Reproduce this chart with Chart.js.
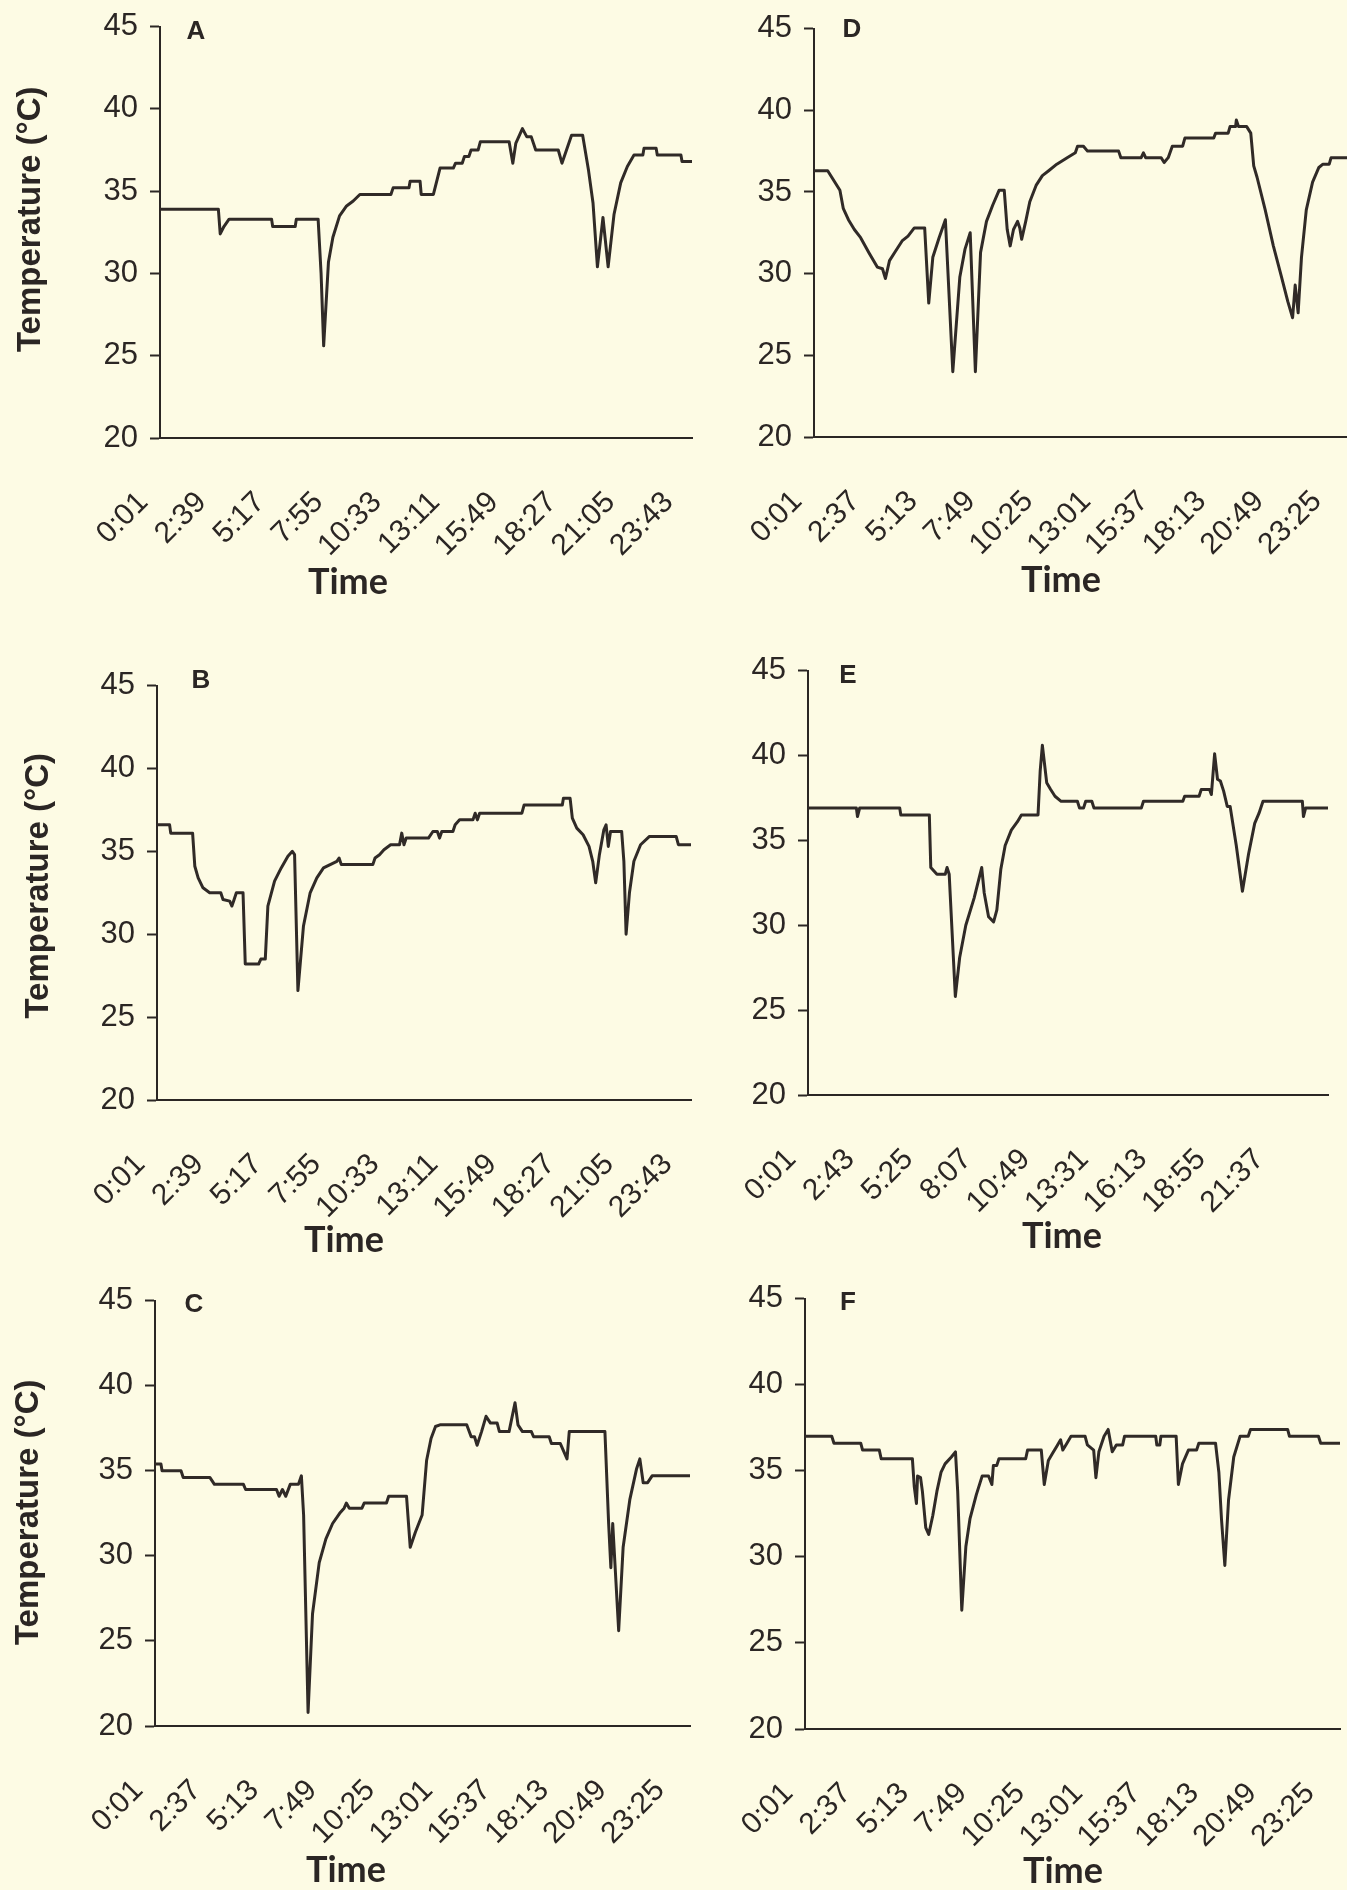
<!DOCTYPE html>
<html>
<head>
<meta charset="utf-8">
<script src="https://cdn.jsdelivr.net/npm/chart.js@4.4.1/dist/chart.umd.min.js"></script>
<style>
html, body { margin: 0; padding: 0; background: #fdfbe4; }
body { width: 1347px; height: 1890px; overflow: hidden; position: relative; }
canvas { position: absolute; }
</style>
</head>
<body>
<script>
// ---------- DATA (minutes after midnight, temperature in °C) ----------
const timeA = [0,158,163,173,187,302,305,366,369,428,436,443,456,468,486,505,523,541,625,631,674,677,704,707,740,758,794,800,818,824,836,842,861,867,945,955,963,981,993,1005,1017,1078,1088,1114,1144,1160,1172,1184,1199,1213,1229,1247,1265,1283,1307,1310,1343,1346,1410,1413,1440];
const tempA = [33.9,33.9,32.4,32.85,33.3,33.3,32.85,32.85,33.3,33.3,30.0,25.6,30.7,32.2,33.5,34.1,34.4,34.8,34.8,35.2,35.2,35.6,35.6,34.8,34.8,36.4,36.4,36.7,36.7,37.1,37.1,37.5,37.5,38.0,38.0,36.7,37.9,38.8,38.3,38.3,37.5,37.5,36.7,38.4,38.4,36.25,34.3,30.4,33.4,30.4,33.6,35.5,36.5,37.2,37.2,37.6,37.6,37.2,37.2,36.8,36.8];
const ticksA = ["0:01","2:39","5:17","7:55","10:33","13:11","15:49","18:27","21:05","23:43"];

const timeB = [0,34,37,96,102,111,124,142,172,178,196,202,208,214,232,238,274,280,292,299,317,335,353,365,371,380,395,413,431,449,467,485,491,497,582,588,600,612,630,654,660,666,672,732,744,756,762,768,798,804,816,852,858,864,870,984,990,1093,1096,1114,1120,1132,1149,1165,1175,1183,1193,1205,1211,1217,1223,1253,1259,1265,1274,1286,1304,1328,1400,1406,1440];
const tempB = [36.6,36.6,36.1,36.1,34.1,33.4,32.8,32.5,32.5,32.1,32.0,31.7,32.1,32.5,32.5,28.2,28.2,28.5,28.5,31.7,33.2,34.0,34.7,35.0,34.8,26.6,30.5,32.5,33.4,34.0,34.2,34.4,34.6,34.2,34.2,34.6,34.8,35.1,35.4,35.4,36.1,35.4,35.8,35.8,36.2,36.2,35.8,36.2,36.2,36.6,36.9,36.9,37.3,36.9,37.3,37.3,37.8,37.8,38.2,38.2,37.0,36.4,36.0,35.3,34.4,33.1,34.8,36.3,36.6,35.3,36.2,36.2,34.4,30.0,32.5,34.4,35.4,35.9,35.9,35.4,35.4];
const ticksB = ["0:01","2:39","5:17","7:55","10:33","13:11","15:49","18:27","21:05","23:43"];

const timeC = [0,16,19,70,76,148,160,238,244,327,334,343,352,364,386,394,400,412,424,442,460,478,497,509,515,523,557,563,623,629,677,687,701,719,731,743,755,767,839,851,860,867,879,891,903,921,927,953,969,977,989,1013,1019,1061,1067,1091,1109,1115,1211,1221,1227,1232,1248,1260,1278,1296,1305,1314,1326,1338,1440];
const tempC = [35.4,35.4,35.0,35.0,34.6,34.6,34.2,34.2,33.9,33.9,33.5,33.9,33.5,34.2,34.2,34.7,32.4,20.8,26.6,29.6,31.0,31.9,32.5,32.8,33.1,32.8,32.8,33.1,33.1,33.5,33.5,30.5,31.4,32.4,35.6,36.9,37.6,37.7,37.7,37.0,37.0,36.5,37.3,38.2,37.8,37.8,37.3,37.3,39.0,37.7,37.3,37.3,37.0,37.0,36.6,36.6,35.7,37.3,37.3,31.9,29.3,31.9,25.6,30.5,33.3,35.1,35.7,34.3,34.3,34.7,34.7];
const ticksC = ["0:01","2:37","5:13","7:49","10:25","13:01","15:37","18:13","20:49","23:25"];

const timeD = [0,37,48,59,70,79,93,109,126,148,171,185,193,204,221,238,254,271,299,310,321,338,355,375,394,408,422,436,450,466,483,500,514,522,530,539,550,556,561,572,583,600,617,634,656,684,706,712,728,739,823,829,884,890,896,938,946,957,968,996,1002,1080,1085,1119,1124,1139,1141,1147,1169,1180,1188,1197,1219,1241,1263,1280,1293,1300,1308,1317,1330,1347,1364,1375,1392,1397,1440];
const tempD = [36.3,36.3,35.9,35.5,35.1,34.0,33.3,32.7,32.2,31.3,30.4,30.3,29.7,30.8,31.4,32.0,32.3,32.8,32.8,28.2,31.0,32.2,33.3,24.0,29.8,31.5,32.5,24.0,31.3,33.2,34.2,35.1,35.1,32.7,31.7,32.7,33.2,32.8,32.1,33.2,34.4,35.4,36.0,36.3,36.7,37.1,37.4,37.8,37.8,37.5,37.5,37.1,37.1,37.4,37.1,37.1,36.8,37.1,37.8,37.8,38.3,38.3,38.6,38.6,39.0,39.0,39.4,39.0,39.0,38.6,36.6,35.9,33.9,31.7,29.8,28.3,27.3,29.3,27.6,31.0,33.9,35.6,36.5,36.7,36.7,37.1,37.1];
const ticksD = ["0:01","2:37","5:13","7:49","10:25","13:01","15:37","18:13","20:49","23:25"];

const timeE = [0,134,137,143,254,257,336,340,357,380,385,391,408,420,437,460,481,488,500,514,523,534,546,563,580,591,637,643,649,661,672,684,701,746,752,763,769,786,792,923,929,1038,1043,1083,1089,1112,1117,1126,1134,1142,1151,1161,1169,1186,1203,1220,1237,1249,1260,1369,1372,1378,1440];
const tempE = [36.9,36.9,36.4,36.9,36.9,36.5,36.5,33.4,33.0,33.0,33.4,33.0,25.8,28.1,30.0,31.6,33.4,31.9,30.5,30.2,30.9,33.3,34.7,35.6,36.1,36.5,36.5,39.1,40.6,38.4,38.0,37.6,37.3,37.3,36.9,36.9,37.3,37.3,36.9,36.9,37.3,37.3,37.6,37.6,38.0,38.0,37.7,40.1,38.6,38.5,37.9,37.0,37.0,34.7,32.0,34.2,36.0,36.6,37.3,37.3,36.4,36.9,36.9];
const ticksE = ["0:01","2:43","5:25","8:07","10:49","13:31","16:13","18:55","21:37"];

const timeF = [0,72,78,150,155,200,205,289,294,300,303,311,316,325,333,344,355,366,377,394,405,411,422,433,444,461,477,494,503,507,516,522,594,599,636,644,655,666,677,688,694,705,716,754,760,777,783,791,805,816,821,827,838,855,860,944,947,955,958,999,1005,1016,1032,1054,1060,1105,1114,1121,1130,1140,1154,1171,1193,1199,1299,1304,1382,1388,1440];
const tempF = [37.0,37.0,36.6,36.6,36.2,36.2,35.7,35.7,34.1,33.1,34.7,34.6,33.8,31.7,31.3,32.4,33.8,34.9,35.4,35.8,36.1,33.8,26.9,30.6,32.2,33.6,34.7,34.7,34.2,35.3,35.3,35.7,35.7,36.2,36.2,34.2,35.6,36.0,36.4,36.8,36.2,36.6,37.0,37.0,36.5,36.2,34.6,36.1,37.0,37.4,36.8,36.1,36.5,36.5,37.0,37.0,36.5,36.5,37.0,37.0,34.2,35.4,36.2,36.2,36.6,36.6,34.9,32.2,29.5,33.3,35.8,37.0,37.0,37.4,37.4,37.0,37.0,36.6,36.6];
const ticksF = ["0:01","2:37","5:13","7:49","10:25","13:01","15:37","18:13","20:49","23:25"];

const panelLetters = ["A","B","C","D","E","F"];
const yAxisTitle = "Temperature (°C)";
const xAxisTitle = "Time";
const yMin = 20, yMax = 45, yStep = 5;
const dayMinutes = 1440;

// ---------- STYLE / LAYOUT ----------
const INK = '#2b2624';
const LINE = '#302a27';
const SANS = '"Liberation Sans", Arial, Helvetica, sans-serif';
const X_TICK_FONT = { family: SANS, size: 30 };
const Y_TICK_FONT = { family: SANS, size: 31 };

const series = { A: [timeA, tempA, ticksA], B: [timeB, tempB, ticksB], C: [timeC, tempC, ticksC],
                 D: [timeD, tempD, ticksD], E: [timeE, tempE, ticksE], F: [timeF, tempF, ticksF] };

// plot-area boxes in page pixels + text offsets (relative to the plot area)
const layout = {
  A: { L: 160, T: 26,   R: 692,  B: 438,  yt: true,  yx: -129, yy: -13, lx: 36, ly: 5,  tx: 188, ty: 156 },
  B: { L: 157, T: 685,  R: 691,  B: 1100, yt: true,  yx: -118, yy: -7,  lx: 44, ly: -5, tx: 187, ty: 152 },
  C: { L: 155, T: 1300, R: 690,  B: 1726, yt: true,  yx: -126, yy: -1,  lx: 39, ly: 4,  tx: 191, ty: 156 },
  D: { L: 814, T: 28,   R: 1347, B: 437,  yt: false, yx: 0,    yy: 0,   lx: 38, ly: 1,  tx: 247, ty: 155 },
  E: { L: 808, T: 670,  R: 1328, B: 1095, yt: false, yx: 0,    yy: 0,   lx: 40, ly: 5,  tx: 254, ty: 153 },
  F: { L: 805, T: 1298, R: 1340, B: 1729, yt: false, yx: 0,    yy: 0,   lx: 43, ly: 4,  tx: 258, ty: 154 }
};

const YBOX = 160, XBOX = 180, PADT = 30, PADR = 90;
const toMin = s => { const [h, m] = s.split(':').map(Number); return h * 60 + m; };

const panelText = {
  id: 'panelText',
  afterDraw(chart, args, o) {
    const { ctx, chartArea } = chart;
    ctx.save();
    ctx.fillStyle = INK;
    ctx.textAlign = 'center';
    ctx.textBaseline = 'middle';
    ctx.font = 'bold 26px "Liberation Sans", Arial, sans-serif';
    ctx.fillText(o.letter, chartArea.left + o.lx, chartArea.top + o.ly);
    if (o.yTitle) {
      ctx.save();
      ctx.translate(chartArea.left + o.yx, (chartArea.top + chartArea.bottom) / 2 + o.yy);
      ctx.rotate(-Math.PI / 2);
      ctx.font = 'bold 33px "Liberation Sans", Arial, sans-serif';
      ctx.fillText(o.yTitle, 0, 0);
      ctx.restore();
    }
    ctx.textBaseline = 'alphabetic';
    ctx.font = 'bold 36px Lato, "Open Sans", sans-serif';
    ctx.fillText(o.xTitle, chartArea.left + o.tx, chartArea.bottom + o.ty);
    ctx.restore();
  }
};

panelLetters.forEach(letter => {
  const [times, temps, tickLabels] = series[letter];
  const g = layout[letter];
  const canvas = document.createElement('canvas');
  const w = (g.R - g.L) + YBOX + PADR;
  const h = (g.B - g.T) + PADT + XBOX;
  canvas.width = w; canvas.height = h;
  canvas.style.width = w + 'px'; canvas.style.height = h + 'px';
  canvas.style.left = (g.L - YBOX) + 'px';
  canvas.style.top = (g.T - PADT) + 'px';
  document.body.appendChild(canvas);
  const tickVals = tickLabels.map(toMin);

  new Chart(canvas, {
    type: 'line',
    data: {
      datasets: [{
        data: times.map((t, i) => ({ x: t, y: temps[i] })),
        borderColor: LINE, borderWidth: 3, pointRadius: 0, fill: false, tension: 0,
        borderJoinStyle: 'round', borderCapStyle: 'butt'
      }]
    },
    options: {
      responsive: false, animation: false, events: [],
      layout: { padding: { left: 0, top: PADT, right: PADR, bottom: 0 } },
      plugins: {
        legend: { display: false }, tooltip: { enabled: false },
        panelText: { letter: letter, xTitle: xAxisTitle, yTitle: g.yt ? yAxisTitle : null,
                     yx: g.yx, yy: g.yy, lx: g.lx, ly: g.ly, tx: g.tx, ty: g.ty }
      },
      scales: {
        x: {
          type: 'linear', min: 0, max: dayMinutes,
          grid: { display: false },
          border: { display: true, color: INK, width: 2 },
          afterBuildTicks: s => { s.ticks = tickVals.map(v => ({ value: v })); },
          afterFit: s => { s.height = XBOX; },
          ticks: {
            autoSkip: false, minRotation: 45, maxRotation: 45, padding: 39, labelOffset: -17,
            color: INK, font: X_TICK_FONT,
            callback: (v, i) => tickLabels[i]
          }
        },
        y: {
          min: yMin, max: yMax,
          afterFit: s => { s.width = YBOX; },
          ticks: { stepSize: yStep, padding: 12, color: INK, font: Y_TICK_FONT },
          grid: { display: true, drawOnChartArea: false, drawTicks: true, tickLength: 10, tickColor: INK, tickWidth: 2 },
          border: { display: true, color: INK, width: 2 },
          title: { display: false }
        }
      }
    },
    plugins: [panelText]
  });
});
</script>
</body>
</html>
